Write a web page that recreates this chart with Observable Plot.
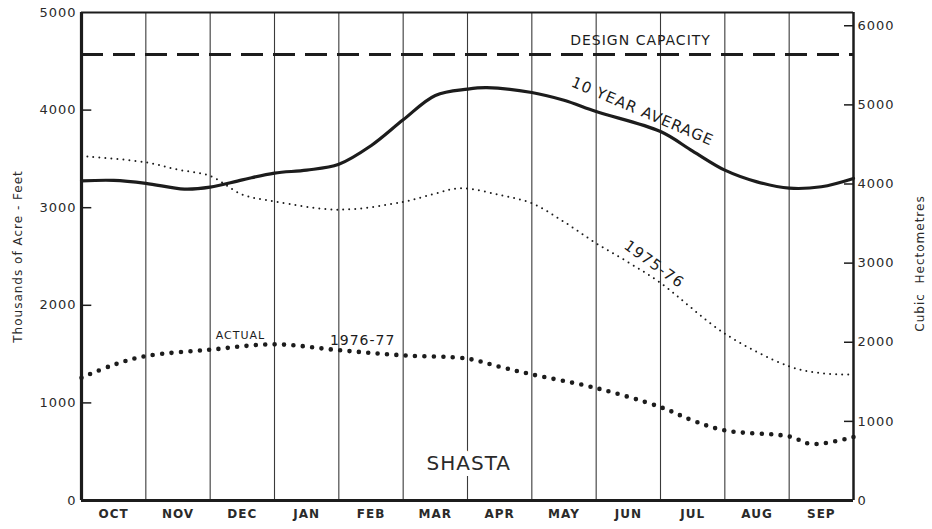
<!DOCTYPE html>
<html>
<head>
<meta charset="utf-8">
<script src="https://cdn.jsdelivr.net/npm/d3@7"></script>
<script src="https://cdn.jsdelivr.net/npm/@observablehq/plot@0.6"></script>
<style>
  html, body { margin: 0; padding: 0; background: #fff; }
  svg text { letter-spacing: 1px; }
</style>
</head>
<body>
<div id="chart"></div>
<script>
// Month labels (columns) and tick values
const months = ["OCT","NOV","DEC","JAN","FEB","MAR","APR","MAY","JUN","JUL","AUG","SEP"];
const leftTicks = [0, 1000, 2000, 3000, 4000, 5000];
const rightTicks = [0, 1000, 2000, 3000, 4000, 5000, 6000]; // cubic hectometres
const hm3PerTaf = 1.2335;

// Design capacity (thousands of acre-feet)
const designCapacity = 4570;

// 10 year average storage
const avgMonth   = [0, 0.5, 1, 1.6, 2, 2.5, 3, 3.5, 4, 4.5, 5, 5.5, 6, 6.3, 7, 7.5, 8, 9, 9.5, 10, 10.5, 11, 11.5, 12];
const avgStorage = [3275, 3280, 3250, 3190, 3210, 3285, 3355, 3385, 3445, 3635, 3900, 4150, 4215, 4230, 4180, 4100, 3985, 3780, 3580, 3385, 3265, 3200, 3215, 3300];

// 1975-76 storage
const y7576Month   = [0, 1, 1.5, 2, 2.5, 3, 4, 5, 5.5, 5.9, 6.5, 7, 7.5, 8, 8.5, 9, 10, 11, 11.5, 12];
const y7576Storage = [3530, 3465, 3390, 3325, 3135, 3065, 2980, 3060, 3145, 3200, 3130, 3045, 2855, 2635, 2440, 2230, 1710, 1375, 1305, 1290];

// 1976-77 actual storage
const y7677Month   = [0, 0.5, 1, 2, 3, 4, 5, 6, 6.5, 7, 8, 9, 9.5, 10, 11, 11.35, 12];
const y7677Storage = [1258, 1390, 1480, 1545, 1600, 1540, 1487, 1453, 1370, 1292, 1152, 957, 820, 718, 656, 578, 650];

// Annotations
const notes = [
  {text: "DESIGN CAPACITY", month: 8.69, value: 4710, size: 14, rotate: 0, weight: 700},
  {text: "10 YEAR AVERAGE", month: 8.72, value: 3985, size: 15, rotate: 23, weight: 600},
  {text: "1975-76",         month: 8.9, value: 2420, size: 15, rotate: 36, weight: 600},
  {text: "ACTUAL",          month: 2.47, value: 1690, size: 11, rotate: 0, weight: 600},
  {text: "1976-77",         month: 4.37, value: 1640, size: 14, rotate: 0, weight: 600}
];
const stationName = [{text: "SHASTA", month: 6.02, value: 380}];

const avg = avgMonth.map((m, i) => ({m, v: avgStorage[i]}));
const s7576 = y7576Month.map((m, i) => ({m, v: y7576Storage[i]}));
const s7677 = y7677Month.map((m, i) => ({m, v: y7677Storage[i]}));
const gridMonths = d3.range(1, 12);
const ink = "#1c1c1c";

const chart = Plot.plot({
  width: 932,
  height: 529,
  marginLeft: 81,
  marginRight: 79,
  marginTop: 12,
  marginBottom: 29,
  x: {domain: [0, 12], axis: null},
  y: {domain: [0, 5000], axis: null},
  style: {fontFamily: "DejaVu Sans, sans-serif", background: "#fff", color: ink},
  marks: [
    // month separators
    Plot.ruleX(gridMonths, {x: d => d, stroke: "#3a3a3a", strokeWidth: 1.1}),
    // inward ticks
    Plot.ruleY(leftTicks.slice(1, -1), {y: d => d, x1: 0, x2: 0.16, stroke: ink, strokeWidth: 1.5}),
    Plot.ruleY(rightTicks.slice(1), {y: d => d / hm3PerTaf, x1: 11.86, x2: 12, stroke: ink, strokeWidth: 1.5}),
    // frame
    Plot.ruleY([5000], {stroke: ink, strokeWidth: 2.2}),
    Plot.ruleX([12], {stroke: ink, strokeWidth: 2.5}),
    Plot.ruleX([0], {stroke: ink, strokeWidth: 3.2}),
    Plot.ruleY([0], {stroke: ink, strokeWidth: 3.2}),
    // tick labels
    Plot.text(leftTicks, {x: 0, y: d => d, text: d => String(d), textAnchor: "end", dx: -5, fontSize: 13, fill: "#2a2a2a"}),
    Plot.text(rightTicks, {x: 12, y: d => d / hm3PerTaf, text: d => String(d), textAnchor: "start", dx: 4, fontSize: 13, fill: "#2a2a2a"}),
    Plot.text(months, {x: (d, i) => i + 0.5, y: 0, text: d => d, dy: 14, fontSize: 12, fontWeight: 600, fill: "#2a2a2a"}),
    // axis titles
    Plot.text(["Thousands of Acre - Feet"], {frameAnchor: "left", textAnchor: "middle", dx: -63, rotate: -90, fontSize: 12, fill: "#2a2a2a"}),
    Plot.text(["Cubic  Hectometres"], {frameAnchor: "right", textAnchor: "middle", dx: 67, dy: 7, rotate: -90, fontSize: 12, fill: "#2a2a2a"}),
    // design capacity
    Plot.ruleY([designCapacity], {x1: 0, x2: 12, stroke: ink, strokeWidth: 3, strokeDasharray: "22,10"}),
    // 10 year average
    Plot.line(avg, {x: "m", y: "v", curve: "catmull-rom", stroke: ink, strokeWidth: 3.2}),
    // 1975-76
    Plot.line(s7576, {x: "m", y: "v", curve: "catmull-rom", stroke: ink, strokeWidth: 2, strokeDasharray: "0,6", strokeLinecap: "round"}),
    // 1976-77 actual
    Plot.line(s7677, {x: "m", y: "v", curve: "catmull-rom", stroke: ink, strokeWidth: 4.6, strokeDasharray: "0,9.4", strokeLinecap: "round"}),
    // annotations
    Plot.text(notes, {x: "month", y: "value", text: "text", fontSize: d => d.size, rotate: "rotate", fontWeight: d => d.weight, fill: ink}),
    Plot.text(stationName, {x: "month", y: "value", text: "text", fontSize: 20, fill: "#2a2a2a", stroke: "#fff", strokeWidth: 12})
  ]
});
document.getElementById("chart").appendChild(chart);
</script>
</body>
</html>
